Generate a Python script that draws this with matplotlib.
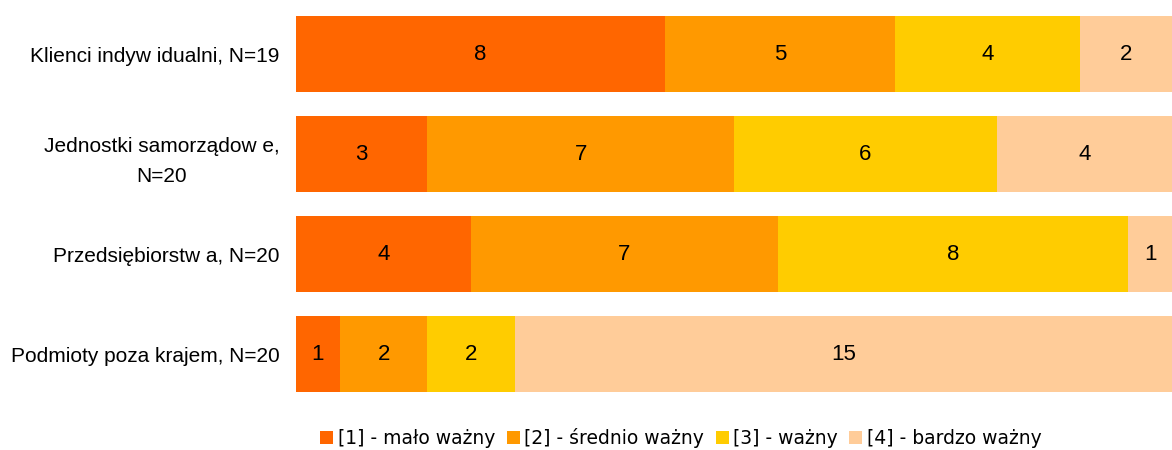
import numpy as np
import matplotlib
matplotlib.use('Agg')
import matplotlib.pyplot as plt

# dane z wykresu
categories = ['Klienci indyw idualni, N=19',
              'Jednostki samorządow e,\nN=20',
              'Przedsiębiorstw a, N=20',
              'Podmioty poza krajem, N=20']
series_names = ['[1] - mało ważny', '[2] - średnio ważny', '[3] - ważny', '[4] - bardzo ważny']
val_1 = [8, 3, 4, 1]
val_2 = [5, 7, 7, 2]
val_3 = [4, 6, 8, 2]
val_4 = [2, 4, 1, 15]
colors = ['#FF6600', '#FF9900', '#FFCC00', '#FFCC99']

counts = np.array([val_1, val_2, val_3, val_4], dtype=float)
totals = counts.sum(axis=0)
shares = counts / totals

fig = plt.figure(figsize=(11.72, 4.5), dpi=100)
ax = fig.add_axes([296 / 1172, 1 - 404 / 450, 1 - 296 / 1172, 400 / 450])

y = np.arange(len(categories))
left = np.zeros(len(categories))
handles = []
for i in range(len(series_names)):
    bars = ax.barh(y, shares[i], left=left, height=0.76, color=colors[i],
                   label=series_names[i])
    handles.append(bars)
    for j in range(len(categories)):
        ax.text(left[j] + shares[i][j] / 2, y[j], '%d' % counts[i][j],
                ha='center', va='center', fontsize=16, family='Liberation Sans')
    left += shares[i]

ax.set_xlim(0, 1)
ax.set_ylim(len(categories) - 0.5, -0.5)
ax.set_yticks(y)
ax.set_yticklabels(categories, fontsize=15, family='Liberation Sans',
                   multialignment='center', linespacing=1.7)
ax.tick_params(axis='y', length=0, pad=12)
ax.set_xticks([])
for s in ax.spines.values():
    s.set_visible(False)

fig.legend(handles=handles, loc='center', bbox_to_anchor=(681 / 1172, 1 - 438 / 450),
           ncol=4, frameon=False, fontsize=13.5, handlelength=0.7, handleheight=0.7,
           handletextpad=0.25, columnspacing=0.6, borderpad=0)

fig.savefig('out.png', dpi=100)
